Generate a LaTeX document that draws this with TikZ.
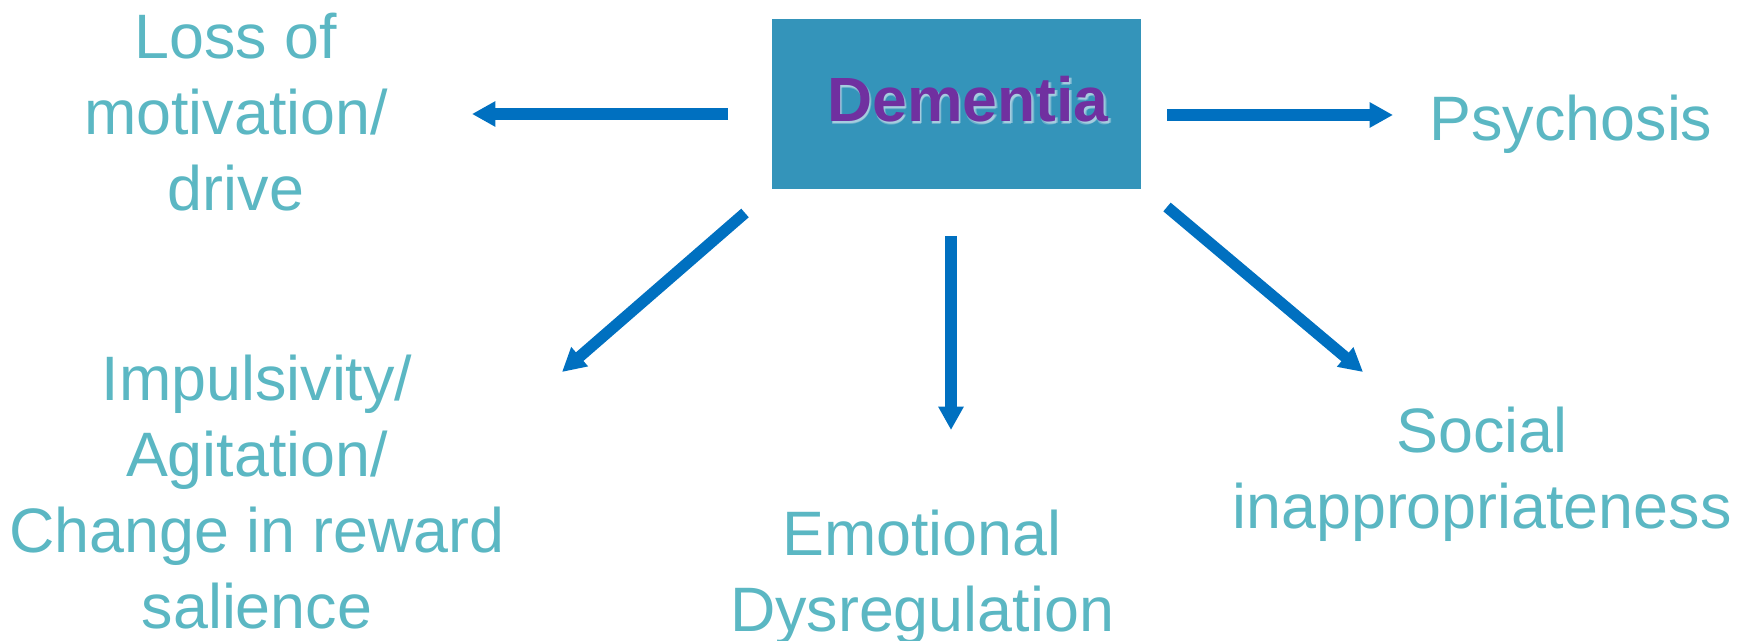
\documentclass[tikz,border=0pt]{standalone}
\usepackage{fontspec}
\setmainfont{Liberation Sans}
\usetikzlibrary{arrows.meta}
\definecolor{boxblue}{HTML}{3494BA}
\definecolor{arrowblue}{HTML}{0070C0}
\definecolor{labelteal}{HTML}{5BB7C3}
\definecolor{titlepurple}{HTML}{7030A0}
\definecolor{glow}{HTML}{D2E4EE}
\tikzset{
  symptom/.style={anchor=north, inner sep=0pt, align=center, text=labelteal,
    font=\fontsize{31.4pt}{38pt}\selectfont},
  single/.style={anchor=base, inner sep=0pt, text=labelteal,
    font=\fontsize{31.4pt}{38pt}\selectfont},
  link/.style={draw=arrowblue, line width=5.7pt,
    -{Triangle[length=11.7pt, width=12pt]}},
  titlefont/.style={font=\fontsize{31.25pt}{38pt}\selectfont\bfseries},
  glowtext/.style={titlefont, anchor=base, inner sep=0pt, text=glow, opacity=0.35}
}
% first-line strut of 0.9em: the node top sits 0.9em above the first baseline
\newcommand{\firstline}{\rule{0pt}{0.9em}}
\begin{document}
\begin{tikzpicture}[x=0.5pt, y=-0.5pt]
\useasboundingbox (0,0) rectangle (1759,641);

% central box
\node[fill=boxblue, minimum width=184.5pt, minimum height=85pt, inner sep=0pt]
  (dem) at (956.5,104) {};
% soft light halo under the title
\node[glowtext] (demglowa) at (969.5,123.5) {Dementia};
\node[glowtext] (demglowb) at (970.5,124) {Dementia};
\node[glowtext] (demglowc) at (968.8,124.2) {Dementia};
\node[titlefont, anchor=base, inner sep=0pt, text=titlepurple]
  (demlabel) at (968,122) {Dementia};

% surrounding symptoms
\node[symptom] (loss) at (236,1.5) {\firstline Loss of\\motivation/\\drive};
\node[single] (psy) at (1571,141) {Psychosis};
\node[symptom] (imp) at (257,344) {\firstline Impulsivity/\\Agitation/\\Change in reward\\salience};
\node[symptom] (emo) at (922,499) {\firstline Emotional\\Dysregulation};
\node[symptom] (soc) at (1482,396) {\firstline Social\\inappropriateness};

% arrow ends
\coordinate (lossS) at (728,114);   \coordinate (lossE) at (472,114);
\coordinate (psyS)  at (1167,115);  \coordinate (psyE)  at (1393,115);
\coordinate (emoS)  at (951,236);   \coordinate (emoE)  at (951,430);
\coordinate (impS)  at (745,213);   \coordinate (impE)  at (562,372);
\coordinate (socS)  at (1167,207);  \coordinate (socE)  at (1363,372);

\draw[link] (lossS) -- (lossE);
\draw[link] (psyS) -- (psyE);
\draw[link] (emoS) -- (emoE);
\draw[link] (impS) -- (impE);
\draw[link] (socS) -- (socE);
\end{tikzpicture}
\end{document}
